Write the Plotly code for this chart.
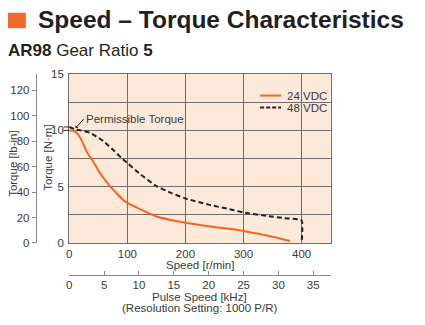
import plotly.graph_objects as go

# ---- data ----
speed_24 = [0, 10, 15, 20, 25, 30, 35, 40, 50, 60, 70, 80, 90, 100, 120, 150, 200, 250, 280, 300, 340, 380]
torque_24 = [10.0, 9.9, 9.65, 9.25, 8.7, 8.1, 7.7, 7.35, 6.45, 5.7, 5.05, 4.5, 3.95, 3.55, 3.05, 2.35, 1.8, 1.42, 1.23, 1.05, 0.65, 0.17]

speed_48 = [0, 10, 20, 35, 50, 60, 75, 90, 100, 120, 150, 175, 200, 240, 280, 300, 340, 370, 400, 400]
torque_48 = [10.3, 10.1, 10.0, 9.8, 9.35, 9.0, 8.3, 7.55, 7.1, 6.2, 5.05, 4.45, 3.95, 3.4, 2.95, 2.7, 2.4, 2.2, 2.0, 0]

series_names = ["24 VDC", "48 VDC"]
nm_ticks = [0, 2.5, 5, 7.5, 10, 12.5, 15]
nm_labels = ["0", "", "5", "", "10", "", "15"]
lbin_ticks = [0, 20, 40, 60, 80, 100, 120]
speed_ticks = [0, 100, 200, 300, 400]
khz_ticks = [0, 5, 10, 15, 20, 25, 30, 35]
permissible = [10.0, 10.3]

NM_TO_LBIN = 8.8507
SPEED_MAX = 450
TORQUE_MAX = 15
KHZ_PER_RPM = 5 * 1000 / 60 / 1000  # gear ratio 5, 1000 P/R

W, H = 425, 325
FONT = "Liberation Sans, Arial, sans-serif"
TXT = "#3a3a3a"
GRID = "#6e6e6e"
BG = "#FDE9DA"
ORANGE = "#F26522"
FS = 11

def px(x):
    return x / W

def py(y):
    return 1 - y / H

xd = [px(66.7), px(330)]
yd = [py(246), py(70.7)]

fig = go.Figure()
fig.add_trace(go.Scatter(x=speed_24, y=torque_24, mode="lines", name=series_names[0],
                         line=dict(color=ORANGE, width=2, shape="spline", smoothing=0.6)))
fig.add_trace(go.Scatter(x=speed_48, y=torque_48, mode="lines", name=series_names[1],
                         line=dict(color="#222222", width=2, dash="5px,3px", shape="spline", smoothing=0.4)))
fig.add_trace(go.Scatter(x=[None], y=[None], xaxis="x2", yaxis="y2", showlegend=False, hoverinfo="skip"))

fig.update_layout(
    width=W, height=H,
    margin=dict(l=0, r=0, t=0, b=0),
    paper_bgcolor="white",
    plot_bgcolor=BG,
    font=dict(family=FONT, size=FS, color=TXT),
    showlegend=False,
    xaxis=dict(domain=xd, range=[0, SPEED_MAX], tickvals=speed_ticks,
               showgrid=True, gridcolor=GRID, gridwidth=1.2,
               showline=True, linecolor=GRID, linewidth=1.2, mirror=True,
               ticks="", zeroline=False, ticklabelstandoff=0,
               tickfont=dict(size=FS + 0.5, color=TXT)),
    yaxis=dict(domain=yd, range=[0, TORQUE_MAX], tickvals=nm_ticks, ticktext=nm_labels,
               showgrid=True, gridcolor=GRID, gridwidth=1.2,
               showline=True, linecolor=GRID, linewidth=1.2, mirror=True,
               ticks="", zeroline=False, ticklabelstandoff=2,
               tickfont=dict(size=FS + 0.5, color=TXT)),
    yaxis2=dict(overlaying="y", anchor="free", position=px(33), side="left",
                range=[0, TORQUE_MAX * NM_TO_LBIN], tickvals=lbin_ticks,
                showgrid=False, zeroline=False, showline=True, linecolor="#888888", linewidth=1,
                ticks="outside", ticklen=4, tickcolor="#888888",
                tickfont=dict(size=FS + 0.5, color=TXT)),
    xaxis2=dict(overlaying="x", anchor="free", position=py(279), side="bottom",
                range=[0, SPEED_MAX * KHZ_PER_RPM], tickvals=khz_ticks,
                showgrid=False, zeroline=False, showline=True, linecolor="#888888", linewidth=1,
                ticks="inside", ticklen=4, tickcolor="#888888",
                tickfont=dict(size=FS + 0.5, color=TXT)),
)

# title square
fig.add_shape(type="rect", xref="paper", yref="paper",
              x0=px(5), x1=px(23), y0=py(23), y1=py(7),
              fillcolor="#F26A2B", line=dict(width=0))

# legend box (covers grid, under traces) and samples
fig.add_shape(type="rect", xref="paper", yref="paper", layer="between",
              x0=px(255), x1=px(322), y0=py(113), y1=py(87),
              fillcolor=BG, line=dict(width=0))
fig.add_shape(type="line", xref="paper", yref="paper",
              x0=px(259), x1=px(280), y0=py(93), y1=py(93),
              line=dict(color=ORANGE, width=2))
fig.add_shape(type="line", xref="paper", yref="paper",
              x0=px(259), x1=px(280), y0=py(105.5), y1=py(105.5),
              line=dict(color="#222222", width=2, dash="4px,2px"))

# small "=" marks at the permissible torque level
for v in permissible:
    fig.add_shape(type="line", xref="paper", yref="y",
                  x0=px(61), x1=px(66.7), y0=v, y1=v,
                  line=dict(color="#222222", width=1))

annos = [
    dict(text="<b>Speed – Torque Characteristics</b>", x=px(33), y=py(14.5),
         font=dict(family=FONT, size=24.5, color="#231F20")),
    dict(text="<b>AR98</b> Gear Ratio <b>5</b>", x=px(3), y=py(46),
         font=dict(family=FONT, size=17, color="#231F20")),
    dict(text=series_names[0], x=px(284), y=py(93), font=dict(size=FS + 0.5, color=TXT)),
    dict(text=series_names[1], x=px(284), y=py(105.5), font=dict(size=FS + 0.5, color=TXT)),
    dict(text="Torque [lb-in]", x=px(10), y=py(164), textangle=-90,
         font=dict(size=FS + 0.5, color=TXT), xanchor="center"),
    dict(text="Torque [N·m]", x=px(45), y=py(158), textangle=-90,
         font=dict(size=FS + 0.5, color=TXT), xanchor="center"),
    dict(text="Speed [r/min]", x=px(198), y=py(268.5),
         font=dict(size=FS + 0.5, color=TXT), xanchor="center"),
    dict(text="Pulse Speed [kHz]", x=px(198), y=py(302),
         font=dict(size=FS + 0.5, color=TXT), xanchor="center"),
    dict(text="(Resolution Setting: 1000 P/R)", x=px(198), y=py(314),
         font=dict(size=FS + 0.5, color=TXT), xanchor="center"),
]
for a in annos:
    a.setdefault("xanchor", "left")
    fig.add_annotation(xref="paper", yref="paper", showarrow=False, yanchor="middle", **a)

# Permissible torque leader
fig.add_annotation(x=11, y=10.2, xref="x", yref="y", text="Permissible Torque",
                   showarrow=True, arrowhead=1, arrowsize=0.7, arrowwidth=1, arrowcolor="#222222",
                   ax=8, ay=-9, axref="pixel", ayref="pixel",
                   xanchor="left", yanchor="middle", font=dict(size=FS + 0.5, color=TXT))

fig.write_html("out.html")
